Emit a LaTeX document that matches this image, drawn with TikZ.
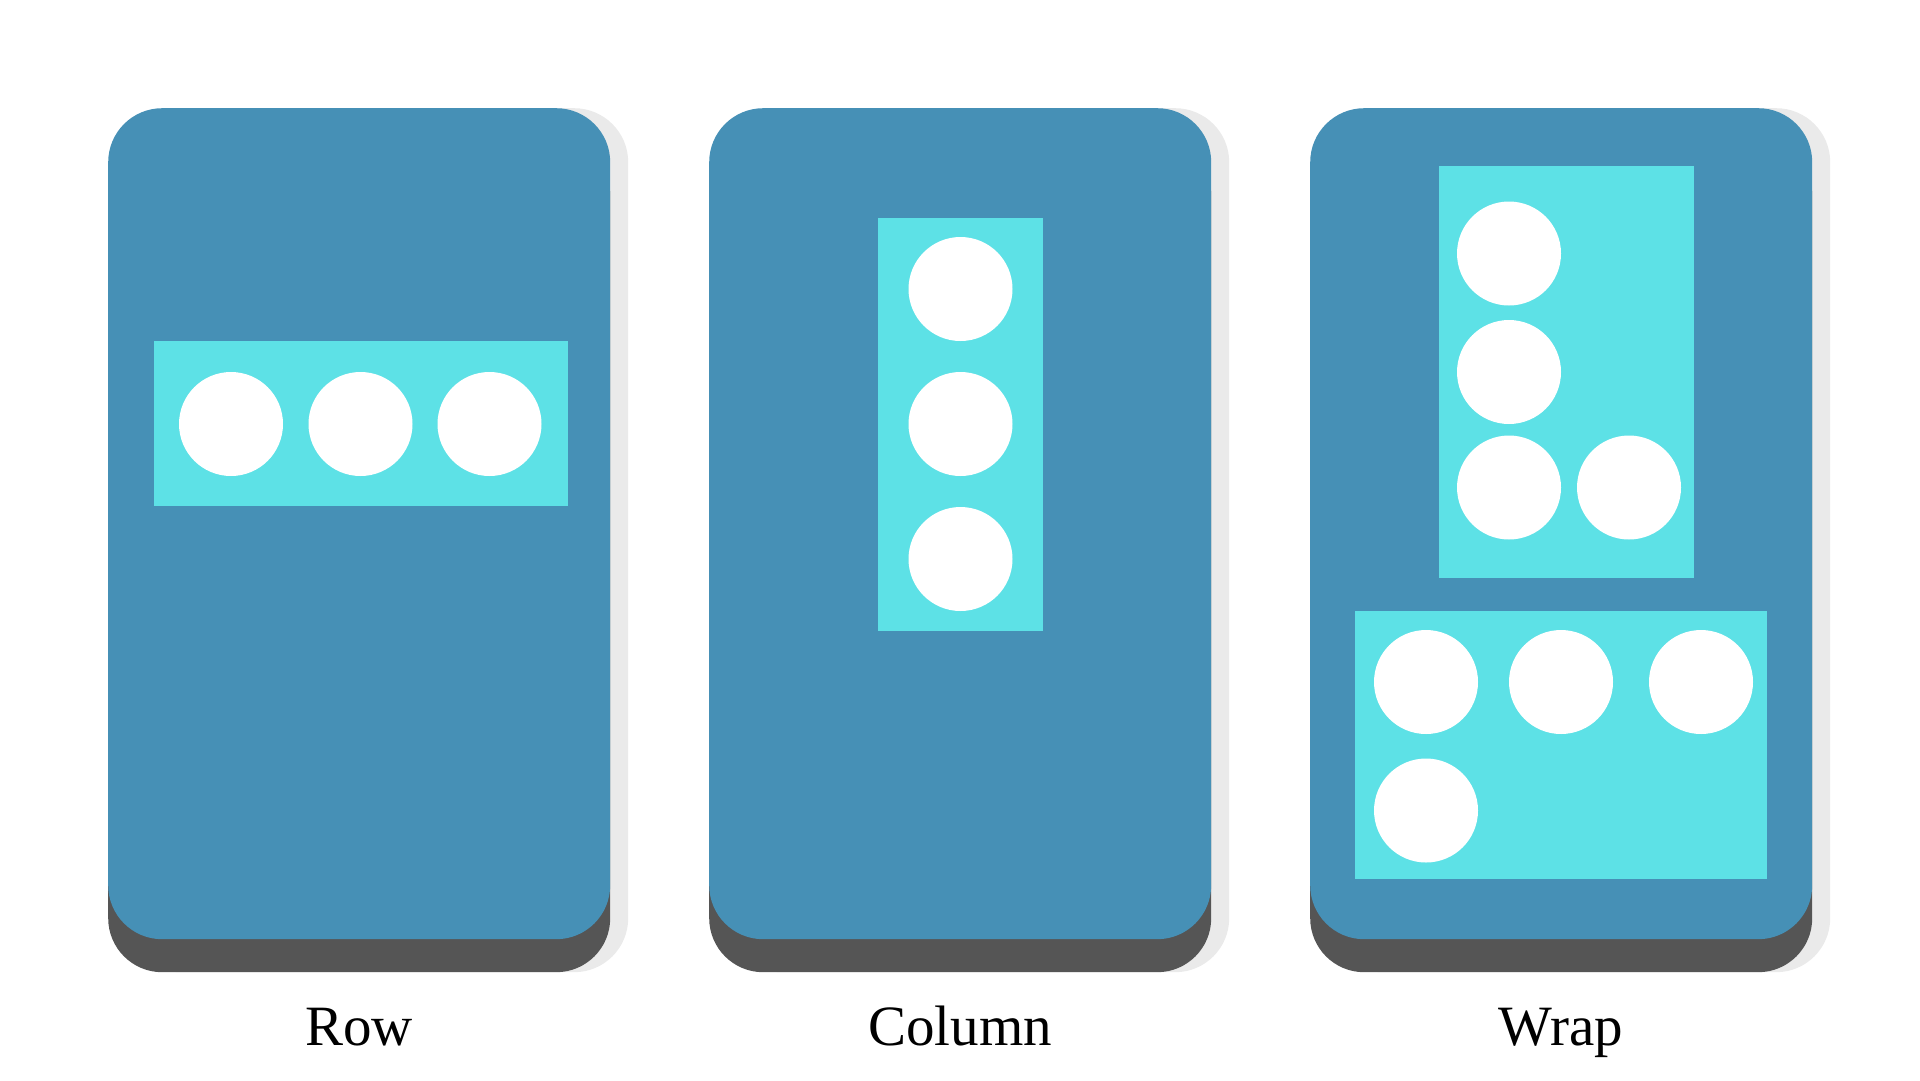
\documentclass[tikz,border=0pt]{standalone}
\usepackage{fontspec}
\setmainfont{Liberation Serif}
\usetikzlibrary{positioning}
\definecolor{cardblue}{RGB}{70,144,182}
\definecolor{boxcyan}{RGB}{93,225,230}
\definecolor{shadedark}{RGB}{85,85,85}
\definecolor{shadelight}{RGB}{234,234,234}
\tikzstyle{card} = [rectangle, rounded corners=54pt, inner sep=0pt, anchor=north west, minimum width=502pt, minimum height=831pt, fill=cardblue]
\tikzstyle{cardlow} = [card, fill=shadedark]
\tikzstyle{cardside} = [card, fill=shadelight, minimum height=864pt]
\tikzstyle{box} = [rectangle, inner sep=0pt, anchor=north west, fill=boxcyan]
\tikzstyle{dot} = [circle, inner sep=0pt, minimum size=104pt, fill=white]
\tikzstyle{caption} = [anchor=base, font=\fontsize{57}{60}\selectfont]

\begin{document}
\begin{tikzpicture}[x=1pt, y=-1pt]
		\useasboundingbox (0,0) rectangle (1920,1080);

		% cards
		\foreach \cx/\cn in {108/row, 709/col, 1310/wrap} {
			\node [cardside] (\cn side) at (\cx+18,108) {};
			\node [cardlow] (\cn low) at (\cx,141) {};
			\node [card] (\cn card) at (\cx,108) {};
		}

		% row
		\node [box, minimum width=414pt, minimum height=165pt] (rowbox) at (154,341) {};
		\node [dot] (r1) at (231,424) {};
		\node [dot, right of=r1, node distance=129.5pt] (r2) {};
		\node [dot, right of=r2, node distance=129pt] (r3) {};

		% column
		\node [box, minimum width=165pt, minimum height=413pt] (colbox) at (878,218) {};
		\node [dot] (c1) at (960.5,289) {};
		\node [dot, below of=c1, node distance=135pt] (c2) {};
		\node [dot, below of=c2, node distance=135pt] (c3) {};

		% wrap
		\node [box, minimum width=255pt, minimum height=412pt] (wraptop) at (1439,166) {};
		\node [dot] (w1) at (1509,253.5) {};
		\node [dot, below of=w1, node distance=118.5pt] (w2) {};
		\node [dot, below of=w2, node distance=115.5pt] (w3) {};
		\node [dot, right of=w3, node distance=120pt] (w4) {};

		\node [box, minimum width=412pt, minimum height=268pt] (wrapbot) at (1355,611) {};
		\node [dot] (w5) at (1426,682) {};
		\node [dot, right of=w5, node distance=135pt] (w6) {};
		\node [dot, right of=w6, node distance=140pt] (w7) {};
		\node [dot, below of=w5, node distance=128.5pt] (w8) {};

		% captions
		\node [caption] (rowtext) at (359,1045) {Row};
		\node [caption] (coltext) at (960,1045) {Column};
		\node [caption] (wraptext) at (1561,1045) {Wrap};
\end{tikzpicture}
\end{document}
